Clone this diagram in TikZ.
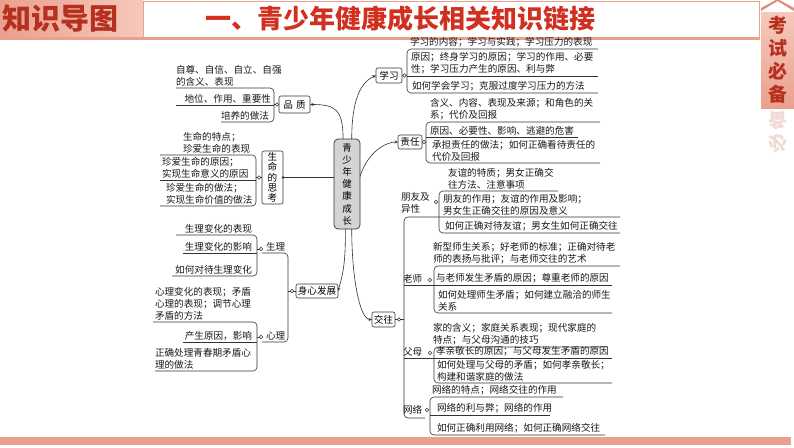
\documentclass[tikz,border=0pt]{standalone}
\usepackage{fontspec}
\setmainfont{Noto Sans CJK SC}
\usetikzlibrary{arrows.meta}
\definecolor{salmon}{HTML}{EBA08E}
\definecolor{salmonlt}{HTML}{F5C9BB}
\definecolor{darkred}{HTML}{B5301F}
\definecolor{titlered}{HTML}{D12F1F}
\definecolor{linec}{HTML}{333333}
\begin{document}
\begin{tikzpicture}[x=1pt,y=-1pt,
  every node/.style={inner sep=0pt, outer sep=0pt},
  item/.style={font=\fontsize{9.6}{11.8}\selectfont, align=left, inner xsep=0pt, inner ysep=1.8pt, text=black!90},
  itemr/.style={item, align=right},
  br/.style={draw=linec, line width=0.6pt, rounded corners=4pt},
  ln/.style={draw=linec, line width=0.6pt},
  knob/.style={circle, draw=linec, fill=white, line width=0.5pt, minimum size=3.6pt, inner sep=0pt},
  topic/.style={draw=linec, line width=0.6pt, rounded corners=2pt, fill=white, font=\fontsize{9.6}{11}\selectfont, inner sep=0pt},
  conn/.style={draw=linec, line width=0.6pt, -{Stealth[length=3.5pt,width=3pt]}},
]
\useasboundingbox (0,0) rectangle (794,447);
\fill[white] (0,0) rectangle (794,447);

% ---------- header ----------
\shade[left color=salmon, right color=salmonlt] (0,0) rectangle (143,38);
\node[font=\fontsize{29}{30}\selectfont\bfseries, text=darkred, anchor=west] (hd) at (2,19) {知识导图};
\draw[draw=salmon, fill=white, line width=0.8pt] (143,1) rectangle (759,37);
\fill[salmon] (0,37) rectangle (760,40);
\node[font=\fontsize{26}{28}\selectfont\bfseries, text=titlered] (title) at (400,19) {一、青少年健康成长相关知识链接};

% right tab
\shade[top color=salmonlt, bottom color=salmon] (761,12) rectangle (794,108);
\fill[salmon!80!darkred] (761,11) -- (777.5,1) -- (794,11) -- (794,8) -- (777.5,-1) -- (761,8) -- cycle;
\node[font=\fontsize{19}{23}\selectfont\bfseries, text=darkred, align=center] (tab) at (777.5,60) {考\\试\\必\\备};
\node[font=\fontsize{19}{23}\selectfont\bfseries, text=darkred, text opacity=0.18, align=center, yscale=-1, transform shape] (tabr) at (777.5,132) {必\\备};

% bottom bar
\fill[salmon] (0,437) rectangle (791,445);

% ---------- center ----------
\node[draw=linec, fill=black!17, rounded corners=4pt, minimum width=26pt, minimum height=90pt, line width=0.7pt, font=\fontsize{9.5}{12.2}\selectfont, align=center] (c) at (347,184) {青\\少\\年\\健\\康\\成\\长};

% ---------- main topics ----------
\node[topic, minimum width=31pt, minimum height=17pt] (pz) at (294.5,104.5) {品\hspace{3pt}质};
\node[topic, minimum width=26pt, minimum height=15pt] (xx) at (389,75.5) {学习};
\node[topic, minimum width=24pt, minimum height=14pt] (zr) at (410,142) {责任};
\node[topic, minimum width=23pt, minimum height=15pt] (jw) at (383.5,319.5) {交往};
\node[topic, minimum width=42pt, minimum height=14pt] (sx) at (317,291) {身心发展};
\node[topic, minimum width=21pt, minimum height=53pt, align=center, font=\fontsize{9.6}{10.4}\selectfont] (sm) at (272.5,177.5) {生\\命\\的\\思\\考};

% connectors from center
\draw[conn] (c.95) .. controls +(0,-30) and +(25,0) .. (pz.east);
\draw[conn] (c.84) .. controls +(0,-42) and +(-14,6) .. (xx.west);
\draw[conn] (c.30) .. controls +(8,-25) and +(-12,0) .. (zr.west);
\draw[conn] (c.268) .. controls +(0,30) and +(6,-20) .. (sx.east);
\draw[conn] (c.276) .. controls +(0,50) and +(-12,0) .. (jw.west);
\draw[ln] (c.west |- sm.east) -- (sm.east);
\fill[linec] (sm.east) circle (1.3);

% ---------- 品质 ----------
\node[item, anchor=south west] (p1) at (176,88) {自尊、自信、自立、自强\\的含义、表现};
\node[itemr, anchor=south east] (p2) at (271,105) {地位、作用、重要性};
\node[itemr, anchor=south east] (p3) at (269,122) {培养的做法};
\draw[br] (p1.south west) -| (274,122) -- (p3.south west);
\draw[ln] (176,105) -- (274,105);
\draw[ln] (274,104.5) -- (pz.west);
\node[knob] (kpz) at (277,104.5) {};

% ---------- 生命的思考 ----------
\node[item, anchor=south west] (s1) at (183,155) {生命的特点；\\珍爱生命的表现};
\node[item, anchor=south west] (s2) at (162,180) {珍爱生命的原因；\\实现生命意义的原因};
\node[item, anchor=south west] (s3) at (166,206) {珍爱生命的做法；\\实现生命价值的做法};
\draw[br] (160,155) -| (256,206) -- (160,206);
\draw[ln] (160,180) -- (256,180);
\draw[ln] (256,177.5) -- (sm.west);
\node[knob] (ksm) at (259,177.5) {};

% ---------- 身心发展 ----------
\node[item, anchor=south west] (shl) at (266,253) {生理};
\node[item, anchor=south west] (xll) at (266,342) {心理};
\draw[br] (262,253) -| (288,342) -- (262,342);
\draw[ln] (288,291) -- (sx.west);
\node[knob] (ksx) at (292,291) {};

\node[itemr, anchor=south east] (g1) at (252,235) {生理变化的表现};
\node[itemr, anchor=south east] (g2) at (252,253) {生理变化的影响};
\node[itemr, anchor=south east] (g3) at (252,276) {如何对待生理变化};
\draw[br] (176,235) -| (257,276) -- (172,276);
\draw[ln] (183,253) -- (257,253);
\draw[ln] (257,249) -- (260,249);
\node[knob] (ksl) at (261,249) {};

\node[item, anchor=south west] (h1) at (155,322) {心理变化的表现；矛盾\\心理的表现；调节心理\\矛盾的方法};
\node[itemr, anchor=south east] (h2) at (252,342) {产生原因，影响};
\node[item, anchor=south west] (h3) at (155,371) {正确处理青春期矛盾心\\理的做法};
\draw[br] (153,322) -| (257,371) -- (155,371);
\draw[ln] (183,342) -- (257,342);
\draw[ln] (257,337) -- (260,337);
\node[knob] (kxl) at (261,337) {};

% ---------- 学习 ----------
\node[item, anchor=south west] (x1) at (410,49) {学习的内容；学习与实践；学习压力的表现};
\node[item, anchor=south west] (x2) at (411,76) {原因；终身学习的原因；学习的作用、必要\\性；学习压力产生的原因、利与弊};
\node[item, anchor=south west] (x3) at (412,93) {如何学会学习；克服过度学习压力的方法};
\draw[br] (598,49) -| (407,93) -- (598,93);
\draw[ln] (407,76) -- (598,76);
\draw[ln] (xx.east) -- (407,75.5);
\node[knob] (kxx) at (404.5,75.5) {};

% ---------- 责任 ----------
\node[item, anchor=south west] (z1) at (430,122) {含义、内容、表现及来源；和角色的关\\系；代价及回报};
\node[item, anchor=south west] (z2) at (430,137.5) {原因、必要性、影响、逃避的危害};
\node[item, anchor=south west] (z3) at (432,163) {承担责任的做法；如何正确看待责任的\\代价及回报};
\draw[br] (600,122) -| (426,163) -- (600,163);
\draw[ln] (426,137.5) -- (578,137.5);
\draw[ln] (zr.east) -- (426,142);
\node[knob] (kzr) at (424,142) {};

% ---------- 交往 ----------
\draw[br] (620,217) -| (404,418) -- (425,418);
\draw[ln] (jw.east) -- (404,319.5);
\node[knob] (kjw) at (399,319.5) {};

\node[item, anchor=south west] (pyl) at (401,215) {朋友及\\异性};
\node[item, anchor=south west] (f1) at (448,191) {友谊的特质；男女正确交\\往方法、注意事项};
\node[item, anchor=south west] (f2) at (443,217) {朋友的作用；友谊的作用及影响；\\男女生正确交往的原因及意义};
\node[item, anchor=south west] (f3) at (445,233) {如何正确对待友谊；男女生如何正确交往};
\draw[br] (558,191) -| (439,233) -- (620,233);
\node[knob] (kpy) at (436,202) {};

\node[item, anchor=south west] (t0) at (433,266) {新型师生关系；好老师的标准；正确对待老\\师的表扬与批评；与老师交往的艺术};
\node[item, anchor=south west] (tl) at (403,285) {老师};
\node[item, anchor=south west] (t1) at (436,285) {与老师发生矛盾的原因；尊重老师的原因};
\node[item, anchor=south west] (t2) at (438,313) {如何处理师生矛盾；如何建立融洽的师生\\关系};
\draw[br] (620,266) -| (434,313) -- (612,313);
\draw[ln] (404,285) -- (612,285);
\node[knob] (ktl) at (430,280) {};

\node[item, anchor=south west] (m0) at (433,347) {家的含义；家庭关系表现；现代家庭的\\特点；与父母沟通的技巧};
\node[item, anchor=south west] (ml) at (403,358) {父母};
\node[item, anchor=south west] (m1) at (436,358) {孝亲敬长的原因；与父母发生矛盾的原因};
\node[item, anchor=south west] (m2) at (437,383) {如何处理与父母的矛盾；如何孝亲敬长；\\构建和谐家庭的做法};
\draw[br] (607,347) -| (434,383) -- (612,383);
\draw[ln] (404,358) -- (612,358);
\node[knob] (kml) at (430,353) {};

\node[item, anchor=south west] (n0) at (432,397) {网络的特点；网络交往的作用};
\node[item, anchor=south west] (nl) at (403,416) {网络};
\node[item, anchor=south west] (n1) at (437,415) {网络的利与弊；网络的作用};
\node[item, anchor=south west] (n2) at (437,435) {如何正确利用网络；如何正确网络交往};
\draw[br] (563,397) -| (430,435) -- (605,435);
\draw[ln] (430,415) -- (550,415);
\node[knob] (knl) at (427,410) {};
\end{tikzpicture}
\end{document}
